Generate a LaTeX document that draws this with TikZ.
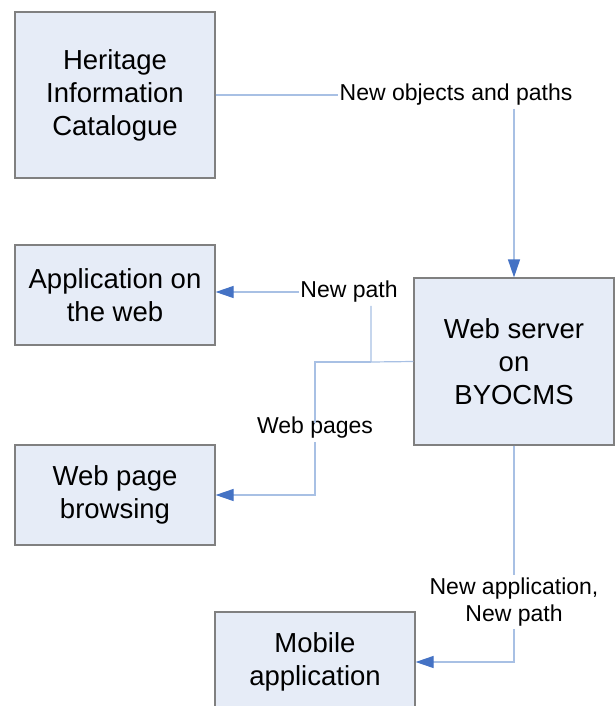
\documentclass[tikz,border=0pt]{standalone}
\usepackage{fontspec}
\setmainfont{Liberation Sans}
\usetikzlibrary{arrows.meta}
\definecolor{boxfill}{HTML}{E6ECF7}
\definecolor{boxline}{HTML}{808080}
\definecolor{linkblue}{HTML}{A8C0E4}
\definecolor{tipblue}{HTML}{4472C4}

\begin{document}
\begin{tikzpicture}[x=1pt, y=-1pt,
    box/.style={draw=boxline, line width=1.2pt, fill=boxfill, align=center,
        minimum width=200pt, inner sep=0pt, font=\fontsize{27.5}{33}\selectfont},
    lbl/.style={align=center, inner xsep=1pt, inner ysep=3pt, font=\fontsize{23}{27}\selectfont},
    link/.style={draw=linkblue, line width=1.2pt},
    tip/.style={link, -{Triangle[length=18pt, width=12pt, color=tipblue]}}]
    \useasboundingbox (0,0) rectangle (614,706);

    % boxes
    \node[box, minimum height=166pt] (heritage) at (115,95) {Heritage\\Information\\Catalogue};
    \node[box, minimum height=100pt] (appweb) at (115,295) {Application on\\the web};
    \node[box, minimum height=100pt] (browse) at (115,495) {Web page\\browsing};
    \node[box, minimum height=167pt] (server) at (514,361.5) {Web server\\on\\BYOCMS};
    \node[box, minimum height=100pt] (mobile) at (315,662) {Mobile\\application};

    % labels on the links
    \node[lbl] (objlbl) at (456,95) {New objects and paths};
    \node[lbl] (npath) at (349,292) {New path};
    \node[lbl] (wpages) at (315,428) {Web pages};
    \node[lbl] (napp) at (514,602) {New application,\\New path};
    \coordinate (split) at (371,362);

    % links
    \draw[link] (heritage.east) -- (objlbl.west);
    \draw[tip] (objlbl.south -| server.north) -- (server.north);
    \draw[link] (server.west) -- (split) -- (split |- npath.south);
    \draw[tip] (npath.west) -- (npath.west -| appweb.east);
    \draw[link] (split) -- (split -| wpages.north) -- ([yshift=-9pt]wpages.north);
    \draw[tip] (wpages.south) |- (browse.east);
    \draw[link] (server.south) -- (napp.north);
    \draw[tip] (napp.south) |- (mobile.east);
\end{tikzpicture}
\end{document}
